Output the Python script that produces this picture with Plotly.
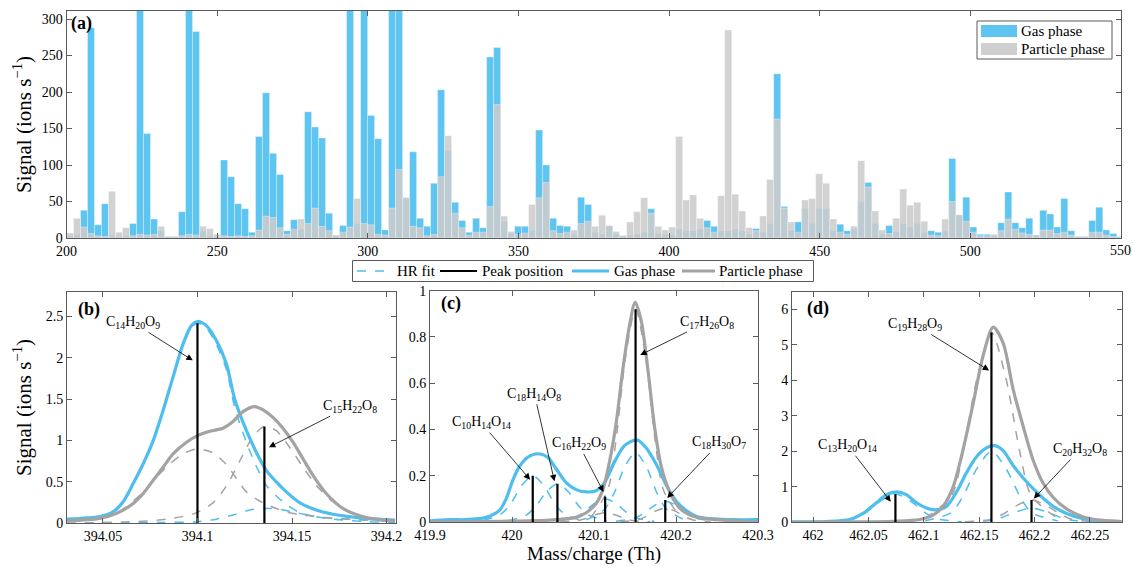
import plotly.graph_objects as go

FONT = "Liberation Serif"
GAS_COLOR = "#4DBEEE"
PART_COLOR = "#A3A3A3"
AXIS_COLOR = "#5a5a5a"

# ---------------- Panel (a): binned mass spectrum ----------------
BIN_START = 200.0
BIN_WIDTH = 2.324
GAS_SIGNAL = [
    3, 5, 38, 288, 18, 47, 4, 2, 3, 20,
    400, 143, 26, 10, 2, 2, 36, 400, 283, 10,
    3, 2, 107, 84, 47, 40, 8, 139, 199, 116,
    87, 10, 25, 12, 173, 152, 137, 34, 3, 17,
    400, 20, 400, 168, 136, 11, 400, 400, 55, 118,
    27, 16, 75, 203, 120, 49, 24, 8, 27, 14,
    248, 261, 23, 6, 16, 16, 10, 148, 100, 27,
    17, 16, 5, 56, 46, 8, 5, 16, 5, 3,
    4, 5, 8, 40, 6, 5, 4, 12, 10, 10,
    12, 24, 16, 10, 10, 12, 10, 5, 13, 8,
    20, 225, 43, 10, 22, 40, 20, 40, 40, 10,
    19, 10, 12, 50, 76, 20, 5, 17, 9, 20,
    15, 20, 8, 10, 8, 10, 109, 31, 56, 15,
    5, 5, 3, 21, 63, 21, 14, 27, 4, 38,
    33, 15, 54, 10, 2, 2, 24, 42, 11, 6, 2]
PARTICLE_SIGNAL = [
    7, 27, 15, 6, 3, 2, 64, 8, 14, 3,
    5, 4, 5, 16, 2, 2, 3, 5, 4, 16,
    13, 5, 3, 2, 3, 2, 3, 11, 30, 28,
    14, 5, 12, 26, 20, 41, 16, 10, 4, 8,
    15, 54, 20, 18, 5, 4, 41, 94, 55, 16,
    14, 3, 5, 84, 140, 34, 14, 4, 8, 8,
    43, 183, 30, 9, 5, 7, 46, 55, 76, 10,
    6, 8, 11, 20, 23, 16, 31, 17, 9, 3,
    22, 36, 55, 34, 16, 11, 15, 139, 52, 59,
    27, 14, 8, 58, 285, 60, 37, 14, 10, 30,
    80, 163, 41, 22, 8, 52, 54, 88, 75, 26,
    8, 5, 16, 106, 70, 37, 11, 6, 27, 67,
    45, 49, 23, 4, 3, 26, 50, 32, 23, 8,
    3, 3, 5, 10, 26, 12, 7, 5, 3, 11,
    11, 6, 8, 4, 2, 2, 8, 8, 4, 2, 1]
A_XTICKS = [200, 250, 300, 350, 400, 450, 500, 550]
A_XTICKTEXT = ["200", "250", "300", "350", "400", "450", "500", ""]
A_LAST_TICK = "550"
A_YTICKS = [0, 50, 100, 150, 200, 250, 300]

# ---------------- Panel (b): m/z 394 ----------------
B_GAS_X = [394.0308, 394.0484, 394.0555, 394.0607, 394.0660, 394.0713, 394.0766, 394.0819, 394.0871,
           394.0924, 394.0968, 394.1000, 394.1047, 394.1100, 394.1153, 394.1197, 394.1259, 394.1311,
           394.1364, 394.1417, 394.1470, 394.1540, 394.1628, 394.1716, 394.1892, 394.2045]
B_GAS_Y = [0.05, 0.08, 0.14, 0.26, 0.48, 0.72, 1.0, 1.37, 1.77, 2.17, 2.39, 2.44, 2.39, 2.21, 1.93,
           1.5, 1.12, 0.86, 0.64, 0.5, 0.38, 0.25, 0.16, 0.11, 0.06, 0.04]
B_GAS_FIT1_Y = [0.05, 0.08, 0.14, 0.26, 0.48, 0.72, 1.0, 1.37, 1.76, 2.16, 2.37, 2.42, 2.36, 2.16, 1.86,
                1.4, 0.98, 0.69, 0.46, 0.33, 0.23, 0.13, 0.08, 0.06, 0.04, 0.03]
B_GAS_FIT2_X = [394.0308, 394.0819, 394.1000, 394.1100, 394.1188, 394.1276, 394.1354, 394.1435, 394.1540,
                394.1628, 394.1716, 394.1892, 394.2045]
B_GAS_FIT2_Y = [0.0, 0.01, 0.02, 0.05, 0.1, 0.16, 0.18, 0.17, 0.12, 0.08, 0.05, 0.02, 0.01]
B_PART_X = [394.0308, 394.0484, 394.0572, 394.0660, 394.0713, 394.0766, 394.0819, 394.0871, 394.0942,
            394.1000, 394.1047, 394.1100, 394.1135, 394.1188, 394.1241, 394.1303, 394.1347, 394.1399,
            394.1452, 394.1505, 394.1558, 394.1611, 394.1681, 394.1769, 394.1892, 394.2045]
B_PART_Y = [0.03, 0.06, 0.12, 0.24, 0.36, 0.52, 0.68, 0.84, 0.98, 1.06, 1.1, 1.13, 1.15, 1.23, 1.35,
            1.41, 1.37, 1.28, 1.15, 0.98, 0.78, 0.58, 0.36, 0.18, 0.07, 0.03]
B_PART_FIT1_X = [394.0308, 394.0484, 394.0572, 394.0695, 394.0836, 394.0924, 394.1000, 394.1083, 394.1153,
                 394.1259, 394.1329, 394.1452, 394.1558, 394.1716, 394.1892, 394.2045]
B_PART_FIT1_Y = [0.02, 0.06, 0.12, 0.34, 0.68, 0.84, 0.9, 0.85, 0.71, 0.38, 0.27, 0.15, 0.1, 0.06, 0.04, 0.02]
B_PART_FIT2_X = [394.0308, 394.0660, 394.0836, 394.0986, 394.1083, 394.1153, 394.1223, 394.1294, 394.1354,
                 394.1417, 394.1487, 394.1558, 394.1628, 394.1716, 394.1804, 394.1892, 394.2045]
B_PART_FIT2_Y = [0.0, 0.02, 0.05, 0.12, 0.25, 0.45, 0.75, 1.05, 1.17, 1.12, 0.92, 0.68, 0.46, 0.26, 0.13,
                 0.06, 0.02]
B_PEAK_POS = [394.1000, 394.1354]
B_PEAK_H = [2.42, 1.17]

# ---------------- Panel (c): m/z 420 ----------------
C_GAS_X = [419.9, 419.9236, 419.9439, 419.9684, 419.9846, 419.9928, 420.0009, 420.0091, 420.0192,
           420.0314, 420.0436, 420.0538, 420.0660, 420.0782, 420.0904, 420.1026, 420.1128, 420.1250,
           420.1372, 420.1523, 420.1637, 420.1759, 420.1881, 420.2003, 420.2125, 420.2288, 420.2695, 420.3]
C_GAS_Y = [0.005, 0.01, 0.01, 0.02, 0.05, 0.1, 0.18, 0.24, 0.28, 0.295, 0.28, 0.23, 0.17, 0.14, 0.13,
           0.135, 0.17, 0.26, 0.33, 0.355, 0.32, 0.25, 0.16, 0.09, 0.05, 0.02, 0.01, 0.01]
C_PART_X = [419.9, 419.9846, 420.0457, 420.0782, 420.0904, 420.1026, 420.1108, 420.1189, 420.1271,
            420.1352, 420.1433, 420.1502, 420.1576, 420.1657, 420.1739, 420.1820, 420.1922, 420.2044,
            420.2207, 420.2491, 420.3]
C_PART_Y = [0.0, 0.003, 0.008, 0.02, 0.04, 0.08, 0.14, 0.26, 0.43, 0.66, 0.85, 0.95, 0.87, 0.66, 0.41,
            0.24, 0.13, 0.06, 0.025, 0.01, 0.0]
C_GAS_FITS = [
    ([419.9653, 419.9873, 419.9993, 420.0123, 420.0253, 420.0383, 420.0513, 420.0633, 420.0853],
     [0.006, 0.036, 0.084, 0.16, 0.2, 0.16, 0.084, 0.036, 0.006]),
    ([419.9954, 420.0174, 420.0294, 420.0424, 420.0554, 420.0684, 420.0814, 420.0934, 420.1154],
     [0.005, 0.03, 0.069, 0.132, 0.165, 0.132, 0.069, 0.03, 0.005]),
    ([420.0536, 420.0756, 420.0876, 420.1006, 420.1136, 420.1266, 420.1396, 420.1516, 420.1736],
     [0.003, 0.018, 0.042, 0.08, 0.1, 0.08, 0.042, 0.018, 0.003]),
    ([420.0907, 420.1127, 420.1247, 420.1377, 420.1507, 420.1637, 420.1767, 420.1887, 420.2107],
     [0.009, 0.054, 0.126, 0.24, 0.3, 0.24, 0.126, 0.054, 0.009]),
    ([420.1269, 420.1489, 420.1609, 420.1739, 420.1869, 420.1999, 420.2129, 420.2249, 420.2469],
     [0.003, 0.016, 0.038, 0.072, 0.09, 0.072, 0.038, 0.016, 0.003]),
]
C_PART_FITS = [
    ([420.0586, 420.0796, 420.0896, 420.1016, 420.1136, 420.1256, 420.1376, 420.1476, 420.1686],
     [0.001, 0.006, 0.015, 0.031, 0.04, 0.031, 0.015, 0.006, 0.001]),
    ([420.0957, 420.1167, 420.1267, 420.1387, 420.1507, 420.1627, 420.1747, 420.1847, 420.2057],
     [0.018, 0.138, 0.35, 0.718, 0.92, 0.718, 0.35, 0.138, 0.018]),
    ([420.1319, 420.1529, 420.1629, 420.1749, 420.1869, 420.1989, 420.2109, 420.2209, 420.2419],
     [0.001, 0.009, 0.023, 0.047, 0.06, 0.047, 0.023, 0.009, 0.001]),
]
C_PEAK_POS = [420.0253, 420.0554, 420.1136, 420.1507, 420.1869]
C_PEAK_H = [0.2, 0.165, 0.11, 0.92, 0.095]

# ---------------- Panel (d): m/z 462 ----------------
D_GAS_X = [461.981, 462.012, 462.0331, 462.0452, 462.0572, 462.0663, 462.0753, 462.0843, 462.0934,
           462.1024, 462.1099, 462.1205, 462.1295, 462.1386, 462.1476, 462.1566, 462.1642, 462.1717,
           462.1807, 462.1898, 462.1988, 462.2078, 462.2169, 462.2289, 462.2440, 462.2620, 462.2786]
D_GAS_Y = [0.01, 0.02, 0.08, 0.25, 0.55, 0.78, 0.86, 0.78, 0.55, 0.4, 0.35, 0.45, 0.85, 1.4, 1.85, 2.1,
           2.16, 2.02, 1.6, 1.25, 0.95, 0.68, 0.45, 0.25, 0.1, 0.04, 0.02]
D_PART_X = [461.981, 462.0422, 462.0723, 462.0964, 462.1084, 462.1175, 462.1265, 462.1355, 462.1446,
            462.1536, 462.1627, 462.1717, 462.1807, 462.1898, 462.1988, 462.2078, 462.2169, 462.2289,
            462.2440, 462.2590, 462.2786]
D_PART_Y = [0.0, 0.01, 0.03, 0.08, 0.2, 0.45, 1.0, 2.05, 3.35, 4.7, 5.5, 5.05, 3.75, 2.7, 1.75, 1.1, 0.7,
            0.38, 0.15, 0.06, 0.02]
D_GAS_FITS = [
    ([462.0144, 462.0384, 462.0484, 462.0614, 462.0744, 462.0874, 462.1004, 462.1104, 462.1344],
     [0.016, 0.112, 0.288, 0.608, 0.8, 0.608, 0.288, 0.112, 0.016]),
    ([462.1011, 462.1251, 462.1351, 462.1481, 462.1611, 462.1741, 462.1871, 462.1971, 462.2211],
     [0.04, 0.28, 0.72, 1.52, 2.0, 1.52, 0.72, 0.28, 0.04]),
    ([462.1373, 462.1613, 462.1713, 462.1843, 462.1973, 462.2103, 462.2233, 462.2333, 462.2573],
     [0.008, 0.056, 0.144, 0.304, 0.4, 0.304, 0.144, 0.056, 0.008]),
]
D_PART_FITS = [
    ([462.1011, 462.1251, 462.1351, 462.1481, 462.1611, 462.1741, 462.1871, 462.1971, 462.2211],
     [0.107, 0.749, 1.926, 4.066, 5.35, 4.066, 1.926, 0.749, 0.107]),
    ([462.1373, 462.1613, 462.1713, 462.1843, 462.1973, 462.2103, 462.2233, 462.2333, 462.2573],
     [0.013, 0.088, 0.227, 0.479, 0.63, 0.479, 0.227, 0.088, 0.013]),
]
D_PEAK_POS = [462.0744, 462.1611, 462.1973]
D_PEAK_H = [0.79, 5.35, 0.63]

W, H = 1133, 566
fig = go.Figure()

# ---- bars (a)
centers = [BIN_START + (k + 0.5) * BIN_WIDTH for k in range(len(GAS_SIGNAL))]
fig.add_trace(go.Bar(x=centers, y=GAS_SIGNAL, width=BIN_WIDTH, name="Gas phase",
                     marker=dict(color="rgba(77,190,238,0.9)",
                                 line=dict(color="rgba(255,255,255,0.55)", width=0.6)),
                     xaxis="x", yaxis="y", showlegend=False))
fig.add_trace(go.Bar(x=centers, y=PARTICLE_SIGNAL, width=BIN_WIDTH, name="Particle phase",
                     marker=dict(color="rgba(204,204,204,0.88)",
                                 line=dict(color="rgba(255,255,255,0.55)", width=0.6)),
                     xaxis="x", yaxis="y", showlegend=False))


def dashed(x, y, color, ax, ay):
    fig.add_trace(go.Scatter(x=x, y=y, mode="lines", name="HR fit",
                             line=dict(color=color, width=1.5, dash="dash", shape="spline", smoothing=0.8),
                             xaxis=ax, yaxis=ay, showlegend=False, hoverinfo="skip"))


def solid(x, y, color, name, ax, ay):
    fig.add_trace(go.Scatter(x=x, y=y, mode="lines", name=name,
                             line=dict(color=color, width=3.2, shape="spline", smoothing=0.8),
                             xaxis=ax, yaxis=ay, showlegend=False, hoverinfo="skip"))


def sticks(pos, h, ax, ay):
    xs, ys = [], []
    for p, v in zip(pos, h):
        xs += [p, p, None]
        ys += [0, v, None]
    fig.add_trace(go.Scatter(x=xs, y=ys, mode="lines", name="Peak position",
                             line=dict(color="black", width=2.2),
                             xaxis=ax, yaxis=ay, showlegend=False, hoverinfo="skip"))


# ---- panel (b)
dashed(B_GAS_X, B_GAS_FIT1_Y, GAS_COLOR, "x2", "y2")
dashed(B_GAS_FIT2_X, B_GAS_FIT2_Y, GAS_COLOR, "x2", "y2")
dashed(B_PART_FIT1_X, B_PART_FIT1_Y, PART_COLOR, "x2", "y2")
dashed(B_PART_FIT2_X, B_PART_FIT2_Y, PART_COLOR, "x2", "y2")
solid(B_GAS_X, B_GAS_Y, GAS_COLOR, "Gas phase", "x2", "y2")
solid(B_PART_X, B_PART_Y, PART_COLOR, "Particle phase", "x2", "y2")
sticks(B_PEAK_POS, B_PEAK_H, "x2", "y2")

# ---- panel (c)
for fx, fy in C_GAS_FITS:
    dashed(fx, fy, GAS_COLOR, "x3", "y3")
for fx, fy in C_PART_FITS:
    dashed(fx, fy, PART_COLOR, "x3", "y3")
solid(C_GAS_X, C_GAS_Y, GAS_COLOR, "Gas phase", "x3", "y3")
solid(C_PART_X, C_PART_Y, PART_COLOR, "Particle phase", "x3", "y3")
sticks(C_PEAK_POS, C_PEAK_H, "x3", "y3")

# ---- panel (d)
for fx, fy in D_GAS_FITS:
    dashed(fx, fy, GAS_COLOR, "x4", "y4")
for fx, fy in D_PART_FITS:
    dashed(fx, fy, PART_COLOR, "x4", "y4")
solid(D_GAS_X, D_GAS_Y, GAS_COLOR, "Gas phase", "x4", "y4")
solid(D_PART_X, D_PART_Y, PART_COLOR, "Particle phase", "x4", "y4")
sticks(D_PEAK_POS, D_PEAK_H, "x4", "y4")


def px_x(a, b):
    return [a / W, b / W]


def px_y(top, bottom):
    return [1 - bottom / H, 1 - top / H]


def axis(domain, rng, tickvals, ticktext=None, anchor=None):
    d = dict(domain=domain, range=rng, tickvals=tickvals, showline=True, mirror="ticks",
             ticks="inside", ticklen=5, linecolor=AXIS_COLOR, tickcolor=AXIS_COLOR, linewidth=1,
             showgrid=False, zeroline=False, automargin=False, fixedrange=True,
             tickfont=dict(family=FONT, size=14, color="black"), anchor=anchor)
    if ticktext is not None:
        d["ticktext"] = ticktext
    return d


layout_axes = dict(
    xaxis=axis(px_x(66.5, 1121), [200, 550], A_XTICKS, A_XTICKTEXT, anchor="y"),
    yaxis=axis(px_y(11, 238), [0, 311], A_YTICKS, anchor="x"),
    xaxis2=axis(px_x(67, 396), [394.031, 394.205], [394.05, 394.1, 394.15, 394.2],
                ["394.05", "394.1", "394.15", "394.2"], anchor="y2"),
    yaxis2=axis(px_y(291.7, 523.3), [0, 2.8], [0, 0.5, 1, 1.5, 2, 2.5],
                ["0", "0.5", "1", "1.5", "2", "2.5"], anchor="x2"),
    xaxis3=axis(px_x(430, 758), [419.9, 420.3], [419.9, 420.0, 420.1, 420.2, 420.3],
                ["419.9", "420", "420.1", "420.2", "420.3"], anchor="y3"),
    yaxis3=axis(px_y(290.7, 522), [0, 1], [0, 0.2, 0.4, 0.6, 0.8, 1],
                ["0", "0.2", "0.4", "0.6", "0.8", "1"], anchor="x3"),
    xaxis4=axis(px_x(792, 1122), [461.981, 462.279], [462, 462.05, 462.1, 462.15, 462.2, 462.25],
                ["462", "462.05", "462.1", "462.15", "462.2", "462.25"], anchor="y4"),
    yaxis4=axis(px_y(291.7, 522.3), [0, 6.5], [0, 1, 2, 3, 4, 5, 6], anchor="x4"),
)


def formula_ann(text, x, y, ax, ay, xr, yr):
    return dict(text=text, x=x, y=y, ax=ax, ay=ay, xref=xr, yref=yr, showarrow=True,
                arrowhead=2, arrowsize=1.6, arrowwidth=0.8, arrowcolor="black", standoff=0,
                font=dict(family=FONT, size=14, color="black"))


annotations = [
    formula_ann("C<sub>14</sub>H<sub>20</sub>O<sub>9</sub>", 394.0975, 1.97, -60, -38, "x2", "y2"),
    formula_ann("C<sub>15</sub>H<sub>22</sub>O<sub>8</sub>", 394.1378, 0.92, 81, -41, "x2", "y2"),
    formula_ann("C<sub>17</sub>H<sub>26</sub>O<sub>8</sub>", 420.1564, 0.722, 67, -33, "x3", "y3"),
    formula_ann("C<sub>18</sub>H<sub>14</sub>O<sub>8</sub>", 420.0518, 0.176, -20, -87, "x3", "y3"),
    formula_ann("C<sub>10</sub>H<sub>14</sub>O<sub>14</sub>", 420.0221, 0.183, -49, -57, "x3", "y3"),
    formula_ann("C<sub>16</sub>H<sub>22</sub>O<sub>9</sub>", 420.1116, 0.13, -25, -48, "x3", "y3"),
    formula_ann("C<sub>18</sub>H<sub>30</sub>O<sub>7</sub>", 420.1893, 0.104, 52, -55, "x3", "y3"),
    formula_ann("C<sub>19</sub>H<sub>28</sub>O<sub>9</sub>", 462.159, 4.28, -74, -46, "x4", "y4"),
    formula_ann("C<sub>13</sub>H<sub>20</sub>O<sub>14</sub>", 462.0702, 0.58, -43, -56, "x4", "y4"),
    formula_ann("C<sub>20</sub>H<sub>32</sub>O<sub>8</sub>", 462.1994, 0.67, 46, -49, "x4", "y4"),
]


def paper_text(text, xpx, ypx, size=15, xanchor="left", bold=False, angle=0):
    return dict(text=("<b>" + text + "</b>") if bold else text, x=xpx / W, y=1 - ypx / H,
                xref="paper", yref="paper", xanchor=xanchor, yanchor="middle", showarrow=False,
                textangle=angle, font=dict(family=FONT, size=size, color="black"))


annotations += [
    paper_text("(a)", 69, 24, 18, bold=True),
    paper_text("(b)", 76, 309, 18, bold=True),
    paper_text("(c)", 439, 303, 18, bold=True),
    paper_text("(d)", 805, 308, 18, bold=True),
    paper_text(A_LAST_TICK, 1120, 250, 14, xanchor="center"),
    paper_text("Signal (ions s<sup>−1</sup>)", 22, 125, 21, xanchor="center", angle=-90),
    paper_text("Signal (ions s<sup>−1</sup>)", 22, 408, 21, xanchor="center", angle=-90),
    paper_text("Mass/charge (Th)", 594, 554, 19, xanchor="center"),
    # top legend labels
    paper_text("Gas phase", 1019, 31, 15),
    paper_text("Particle phase", 1019, 49, 15),
    # middle legend labels
    paper_text("HR fit", 395, 271, 15),
    paper_text("Peak position", 480, 271, 15),
    paper_text("Gas phase", 612, 271, 15),
    paper_text("Particle phase", 717, 271, 15),
]


def pbox(x0, y0, x1, y1, fill, line_color=None):
    return dict(type="rect", xref="paper", yref="paper", x0=x0 / W, x1=x1 / W,
                y0=1 - y1 / H, y1=1 - y0 / H, fillcolor=fill,
                line=dict(color=line_color or fill, width=1 if line_color else 0), layer="above")


def pline(x0, x1, y, color, width, dash="solid"):
    return dict(type="line", xref="paper", yref="paper", x0=x0 / W, x1=x1 / W,
                y0=1 - y / H, y1=1 - y / H, line=dict(color=color, width=width, dash=dash),
                layer="above")


shapes = [
    # top legend
    pbox(977, 21, 1112, 59, "white", AXIS_COLOR),
    pbox(981, 25, 1017, 37, "rgba(77,190,238,0.9)"),
    pbox(981, 43, 1017, 55, "rgba(204,204,204,0.95)"),
    # middle legend
    pbox(352.5, 260.5, 813.5, 281.5, "white", AXIS_COLOR),
    pline(357, 391, 271, GAS_COLOR, 1.5, "dash"),
    pline(440, 477, 271, "black", 2.2),
    pline(572, 609, 271, GAS_COLOR, 3.2),
    pline(682, 715, 271, PART_COLOR, 3.2),
]

fig.update_layout(
    width=W, height=H,
    margin=dict(l=0, r=0, t=0, b=0),
    paper_bgcolor="white", plot_bgcolor="white",
    barmode="overlay", bargap=0,
    font=dict(family=FONT, size=14, color="black"),
    annotations=annotations,
    shapes=shapes,
    showlegend=False,
    **layout_axes,
)

fig.write_html("out.html", config={"displayModeBar": False, "staticPlot": True},
               post_script="document.body.style.margin='0';document.body.style.overflow='hidden';")
